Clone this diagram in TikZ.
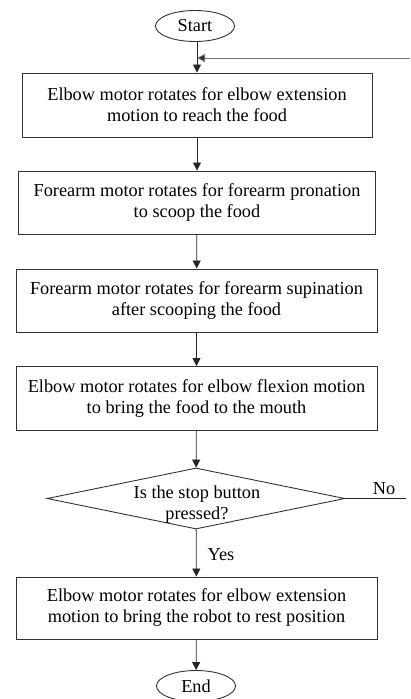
\documentclass[tikz,border=0pt]{standalone}
\usepackage{fontspec}
\setmainfont{Liberation Serif}
\usetikzlibrary{arrows.meta,shapes.geometric}
\begin{document}
\begin{tikzpicture}[x=1pt,y=-1pt,
  every node/.style={font=\fontsize{18.3}{21}\selectfont},
  procbox/.style={draw=black!80,line width=0.9pt,rectangle,inner sep=0pt,align=center},
  term/.style={draw=black!80,line width=0.9pt,ellipse,inner sep=0pt,minimum width=79pt,minimum height=31pt},
  conn/.style={draw=black!85,line width=0.8pt,-{Triangle[length=8pt,width=8pt]}},
  fb/.style={draw=black!55,line width=1pt,-{Triangle[length=8pt,width=8pt,fill=black!85]}}]
\useasboundingbox (0,0) rectangle (410,699);
\clip (0,0) rectangle (410,699);
\node[term] (start) at (195,26) {Start};
\node[procbox,minimum width=350pt,minimum height=64pt] (b1) at (197,105) {Elbow motor rotates for elbow extension\\motion to reach the food};
\node[procbox,minimum width=357pt,minimum height=63pt] (b2) at (197,202.5) {Forearm motor rotates for forearm pronation\\to scoop the food};
\node[procbox,minimum width=361pt,minimum height=63pt] (b3) at (196.5,300.5) {Forearm motor rotates for forearm supination\\after scooping the food};
\node[procbox,minimum width=361pt,minimum height=64pt] (b4) at (196.5,398.5) {Elbow motor rotates for elbow flexion motion\\to bring the food to the mouth};
\node[draw=black!80,line width=0.9pt,diamond,inner sep=0pt,minimum width=298pt,minimum height=61pt] (dec) at (196,498.5) {};
\node[align=center] (dectext) at (197,505) {Is the stop button\\pressed?};
\node[procbox,minimum width=361pt,minimum height=62pt] (b5) at (196.5,608) {Elbow motor rotates for elbow extension\\motion to bring the robot to rest position};
\node[term] (end) at (196,686) {End};
\node (yes) at (221,555) {Yes};
\node (no) at (384,489) {No};
\coordinate (fbstart) at (410,58);
\coordinate (fbend) at (197,58);
\coordinate (noend) at (406,498.5);
\draw[conn] (start.south -| b1.north) -- (b1.north);
\draw[fb] (fbstart) -- (fbend);
\draw[conn] (b1) -- (b2);
\draw[conn] (b2) -- (b3);
\draw[conn] (b3) -- (b4);
\draw[conn] (b4) -- (dec);
\draw[conn] (dec) -- (b5);
\draw[conn] (b5) -- (end);
\draw[draw=black!85,line width=0.8pt] (dec.east) -- (noend);
\end{tikzpicture}
\end{document}
